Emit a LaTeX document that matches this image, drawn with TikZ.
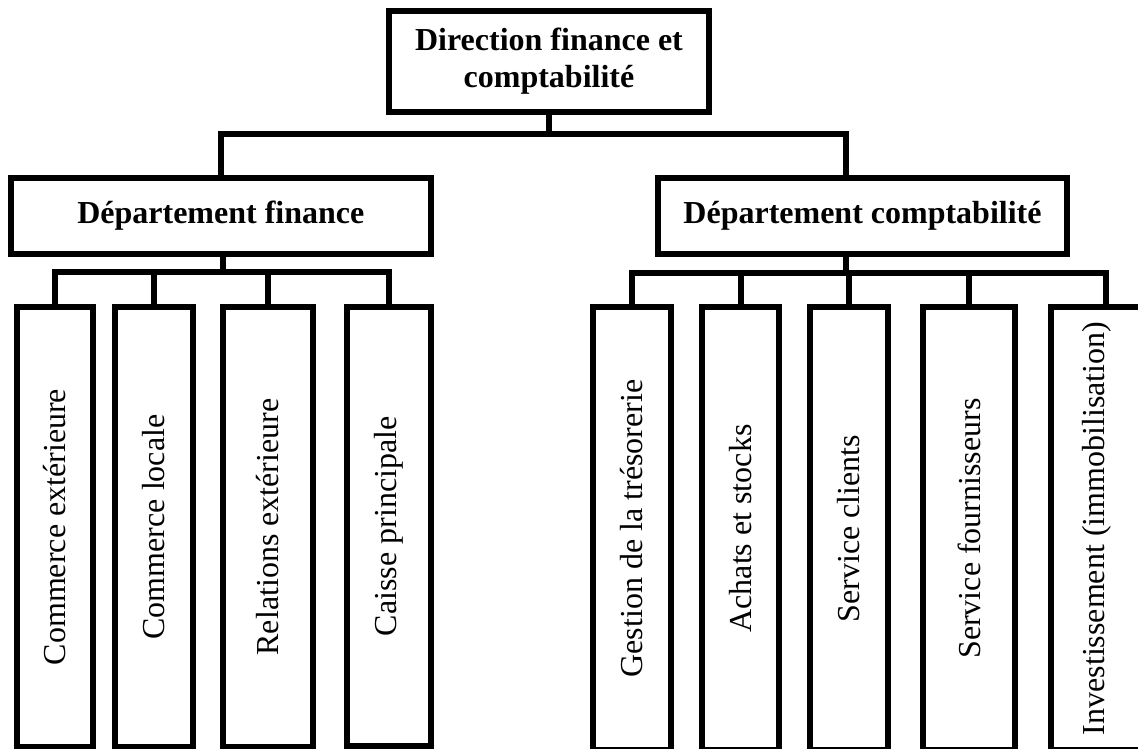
\documentclass[tikz,border=0pt]{standalone}
\usepackage{fontspec}
\setmainfont{Liberation Serif}
\begin{document}
\begin{tikzpicture}[x=1pt,y=-1pt,
  conn/.style={line width=6pt, line join=miter},
  orgbox/.style={draw, line width=6pt, line join=miter, inner sep=0pt, fill=white,
    font=\fontsize{32}{37}\selectfont\bfseries, align=center},
  leafbox/.style={draw, line width=6pt, line join=miter, inner sep=0pt, fill=white,
    font=\fontsize{32}{37}\selectfont}]
\useasboundingbox (0,0) rectangle (1138,748);
\clip (0,0) rectangle (1138,748);

% top
\node[orgbox, minimum width=320pt, minimum height=101.3pt] (dir) at (549,61.2)
  {Direction finance et\\comptabilité};
% departments
\node[orgbox, minimum width=420.5pt, minimum height=76pt] (dfin) at (220.8,215.5)
  {Département finance};
\node[orgbox, minimum width=409pt, minimum height=76pt] (dcpt) at (862.5,215.5)
  {Département comptabilité};

% left leaves
\node[leafbox, minimum width=76.2pt, minimum height=440pt] (l1) at (54.6,527)
  {\rotatebox{90}{Commerce extérieure}};
\node[leafbox, minimum width=78.2pt, minimum height=440pt] (l2) at (153.9,527)
  {\rotatebox{90}{Commerce locale}};
\node[leafbox, minimum width=90.2pt, minimum height=440pt] (l3) at (267.9,527)
  {\rotatebox{90}{Relations extérieure}};
\node[leafbox, minimum width=84.2pt, minimum height=438.5pt] (l4) at (389,526.3)
  {\rotatebox{90}{Caisse principale}};

% right leaves
\node[leafbox, minimum width=78pt, minimum height=443pt] (r1) at (632,528.5)
  {\rotatebox{90}{Gestion de la trésorerie}};
\node[leafbox, minimum width=77pt, minimum height=443pt] (r2) at (740.5,528.5)
  {\rotatebox{90}{Achats et stocks}};
\node[leafbox, minimum width=78pt, minimum height=443pt] (r3) at (849,528.5)
  {\rotatebox{90}{Service clients}};
\node[leafbox, minimum width=92pt, minimum height=443pt] (r4) at (969,528.5)
  {\rotatebox{90}{Service fournisseurs}};
\node[leafbox, minimum width=92pt, minimum height=443pt] (r5) at (1097,528.5)
  {\rotatebox{90}{Investissement (immobilisation)}};

% bus coordinates
\coordinate (busTop) at (845.5,134);
\coordinate (busL) at (222.5,272);
\coordinate (busR) at (845.5,273);
\coordinate (busR5) at (1106,273);

% connectors: top level
\draw[conn] (dir.south) -- (dir.south |- busTop);
\draw[conn] (dfin.north) |- (busTop) -- (busTop |- dcpt.north);

% connectors: finance
\draw[conn] (dfin.south -| busL) -- (busL);
\draw[conn] (l1.north) |- (l4.north |- busL) -- (l4.north);
\draw[conn] (l2.north) -- (l2.north |- busL);
\draw[conn] (l3.north) -- (l3.north |- busL);

% connectors: comptabilite
\draw[conn] (dcpt.south -| busR) -- (busR);
\draw[conn] (r1.north) |- (busR5) -- (busR5 |- r5.north);
\draw[conn] (r2.north) -- (r2.north |- busR);
\draw[conn] (r3.north) -- (r3.north |- busR);
\draw[conn] (r4.north) -- (r4.north |- busR);
\end{tikzpicture}
\end{document}
